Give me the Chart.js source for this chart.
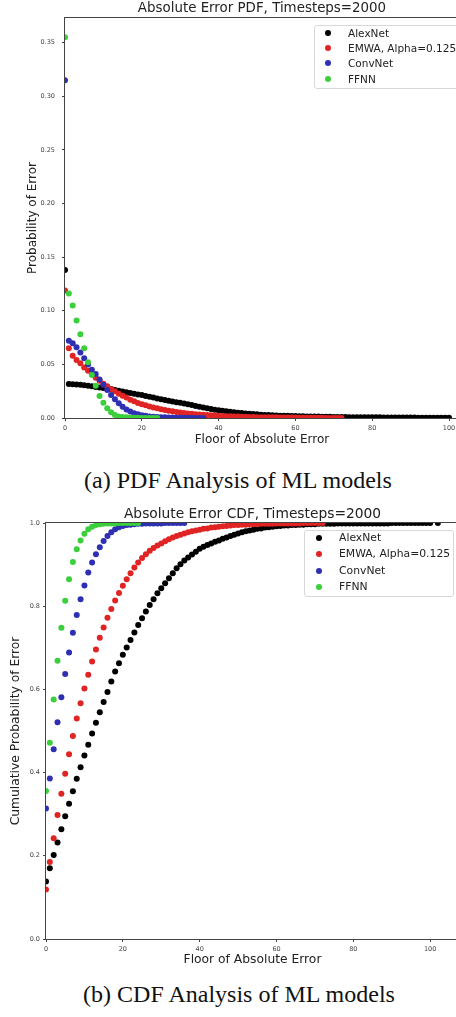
<!DOCTYPE html>
<html lang="en">
<head>
<meta charset="utf-8">
<title>Absolute Error PDF / CDF, Timesteps=2000</title>
<script src="https://cdn.jsdelivr.net/npm/chart.js@4.4.1/dist/chart.umd.min.js"></script>
<style>
  html, body { margin: 0; padding: 0; background: #fff; }
  body { width: 456px; height: 1017px; position: relative; overflow: hidden; font-family: 'DejaVu Sans', sans-serif; }
  canvas { position: absolute; left: 0; }
  #grafico-pdf { top: 0; }
  #grafico-cdf { top: 505px; }
  .leyenda { position: absolute; border: 1px solid #d8d8d8; border-radius: 3px; background: rgba(255,255,255,0.85); color: #222; }
  .leyenda .item { position: absolute; white-space: nowrap; height: 14px; line-height: 14px; }
  .leyenda .punto { position: absolute; width: 6px; height: 6px; border-radius: 50%; top: 4px; }
  .caption { position: absolute; transform: translateX(-50%); white-space: nowrap; font-family: 'Liberation Serif', 'Times New Roman', serif; font-size: 24px; color: #111; line-height: 28px; }
</style>
</head>
<body>
<canvas id="grafico-pdf" width="462" height="452"></canvas>
<canvas id="grafico-cdf" width="462" height="470"></canvas>
<div class="leyenda" id="leyenda-pdf" style="left:314px; top:25px; width:150px; height:62px;"></div>
<div class="leyenda" id="leyenda-cdf" style="left:304px; top:530px; width:148px; height:65px;"></div>
<div class="caption" style="left:238px; top:466px;">(a) PDF Analysis of ML models</div>
<div class="caption" style="left:239px; top:980px;">(b) CDF Analysis of ML models</div>
<script>
// ─── Datos ───────────────────────────────────────
const series  = ['AlexNet', 'EMWA, Alpha=0.125', 'ConvNet', 'FFNN'];
const colores = ['#000000', '#e02424', '#2f2fb4', '#3ccf3c'];

const ticksX    = [0, 20, 40, 60, 80, 100];
const ticksPdfY = [0, 0.05, 0.10, 0.15, 0.20, 0.25, 0.30, 0.35];
const ticksCdfY = [0, 0.2, 0.4, 0.6, 0.8, 1.0];

// PDF: probabilidad por valor entero del error (x = 0, 1, 2, ...)
const pdfAlexNet = [0.138,
  0.0317, 0.0315, 0.0312, 0.031, 0.0305, 0.030, 0.0295, 0.029, 0.0285, 0.028,
  0.0275, 0.027, 0.0262, 0.0255, 0.0248, 0.024, 0.0233, 0.0226, 0.022, 0.0214,
  0.0205, 0.0197, 0.019, 0.0182, 0.0174, 0.0167, 0.016, 0.0154, 0.0148, 0.0143,
  0.0136, 0.0129, 0.0121, 0.0113, 0.0105, 0.0098, 0.0091, 0.0084, 0.0078, 0.0072,
  0.0067, 0.0062, 0.0058, 0.0054, 0.005, 0.0046, 0.0043, 0.004, 0.0037, 0.0034,
  0.0031, 0.0029, 0.0027, 0.0025, 0.0024, 0.0022, 0.0021, 0.002, 0.0019, 0.0018,
  0.0017, 0.0016, 0.0015, 0.0014, 0.0013, 0.0013, 0.0012, 0.0011, 0.0011, 0.001,
  0.001, 0.0009, 0.0009, 0.0008, 0.0008, 0.0008, 0.0007, 0.0007, 0.0007, 0.0006,
  0.0006, 0.0006, 0.0005, 0.0005, 0.0005, 0.0005, 0.0004, 0.0004, 0.0004, 0.0004,
  0.0004, 0.0003, 0.0003, 0.0003, 0.0003, 0.0003, 0.0002, 0.0002, 0.0002, 0.0002];
const pdfEmwa = [
  0.119, 0.065, 0.058, 0.054, 0.051, 0.047, 0.044, 0.041, 0.0376, 0.0348,
  0.032, 0.0295, 0.027, 0.025, 0.0227, 0.0208, 0.019, 0.017, 0.0156, 0.014,
  0.0128, 0.0118, 0.0108, 0.0099, 0.009, 0.0082, 0.0075, 0.0068, 0.0062, 0.0057,
  0.0052, 0.0047, 0.0043, 0.0039, 0.0036, 0.0033, 0.003, 0.0027, 0.0025, 0.0023,
  0.0021, 0.0019, 0.0017, 0.0016, 0.0014, 0.0013, 0.0012, 0.0011, 0.001, 0.0009,
  0.0008, 0.0008, 0.0007, 0.0007, 0.0006, 0.0006, 0.0005, 0.0005, 0.0004, 0.0004,
  0.0004, 0.0003, 0.0003, 0.0003, 0.0002, 0.0002, 0.0002, 0.0002, 0.0001, 0.0001,
  0.0001, 0.0001, 0.0001];
const pdfConvNet = [
  0.315, 0.072, 0.0697, 0.066, 0.061, 0.0557, 0.050, 0.045, 0.041, 0.036,
  0.031, 0.026, 0.0215, 0.0174, 0.0137, 0.0106, 0.008, 0.006, 0.0045, 0.0035,
  0.0025, 0.002, 0.0015, 0.0012, 0.001, 0.0008, 0.0006, 0.0005, 0.0004, 0.0003,
  0.0003, 0.0002, 0.0002, 0.0001, 0.0001, 0.0001, 0.0001];
const pdfFfnn = [
  0.355, 0.116, 0.105, 0.091, 0.078, 0.065, 0.052, 0.040, 0.030, 0.0205,
  0.0143, 0.009, 0.0053, 0.0028, 0.0015, 0.001, 0.0006, 0.0004, 0.0003, 0.0002,
  0.0001, 0.0001, 0.0001, 0.0001, 0.0001];

// CDF: probabilidad acumulada (null = sin registro para ese valor)
const cdfAlexNet = [
  0.138, 0.170, 0.202, 0.232, 0.264, 0.295, 0.325, 0.355, 0.385, 0.413,
  0.441, 0.467, 0.494, 0.520, 0.545, 0.570, 0.594, 0.619, 0.643, 0.663,
  0.683, 0.701, 0.719, 0.737, 0.755, 0.771, 0.787, 0.803, 0.817, 0.831,
  0.843, 0.855, 0.867, 0.879, 0.891, 0.901, 0.910, 0.917, 0.924, 0.931,
  0.938, 0.943, 0.947, 0.951, 0.955, 0.958, 0.962, 0.965, 0.969, 0.972,
  0.975, 0.978, 0.980, 0.982, 0.984, 0.986, 0.987, 0.989, 0.990, 0.991,
  0.992, 0.993, 0.994, 0.994, 0.995, 0.995, 0.996, 0.996, 0.997, 0.997,
  0.997, 0.998, 0.998, 0.998, 0.998, 0.998, 0.999, 0.999, 0.999, 0.999,
  0.999, 0.999, 0.999, 0.999, 0.999, 0.999, 0.999, 0.999, 0.999, 0.999,
  1.0, 1.0, 1.0, 1.0, 1.0, 1.0, 1.0, 1.0, 1.0, 1.0,
  1.0, null, 1.0];
const cdfEmwa = [
  0.119, 0.185, 0.242, 0.298, 0.349, 0.397, 0.444, 0.488, 0.530, 0.567,
  0.602, 0.635, 0.667, 0.696, 0.724, 0.749, 0.772, 0.793, 0.814, 0.832,
  0.849, 0.865, 0.879, 0.893, 0.905, 0.916, 0.925, 0.933, 0.940, 0.946,
  0.951, 0.956, 0.961, 0.965, 0.969, 0.972, 0.975, 0.978, 0.980, 0.982,
  0.984, 0.986, 0.987, 0.989, 0.990, 0.991, 0.992, 0.993, 0.994, 0.995,
  0.995, 0.996, 0.996, 0.997, 0.997, 0.997, 0.998, 0.998, 0.998, 0.998,
  0.999, 0.999, 0.999, 0.999, 0.999, 0.999, 0.999, 1.0, 1.0, 1.0,
  1.0, 1.0, 1.0];
const cdfConvNet = [
  0.314, 0.386, 0.456, 0.521, 0.581, 0.637, 0.689, 0.736, 0.779, 0.817,
  0.850, 0.881, 0.905, 0.925, 0.942, 0.957, 0.969, 0.978, 0.985, 0.990,
  0.993, 0.995, 0.996, 0.997, 0.998, 0.998, 0.999, 0.999, 0.999, 0.999,
  0.999, 1.0, 1.0, 1.0, 1.0, 1.0, 1.0];
const cdfFfnn = [
  0.356, 0.472, 0.576, 0.669, 0.748, 0.813, 0.865, 0.906, 0.937, 0.958,
  0.974, 0.985, 0.991, 0.995, 0.997, 0.998, 0.999, 0.999, 0.999, 1.0,
  1.0, 1.0, 1.0, 1.0, 1.0];

// ─── Helpers ──────────────────────────────────────
const FUENTE = "'DejaVu Sans', sans-serif";

function aPuntos(valores) {
  return valores
    .map((y, x) => (y === null ? null : { x, y }))
    .filter(Boolean);
}

function armarDatasets(listas) {
  return listas.map((valores, i) => ({
    label: series[i],
    data: aPuntos(valores),
    backgroundColor: colores[i],
    borderWidth: 0,
    pointRadius: 3,
    pointHoverRadius: 3,
    clip: 0,
    order: listas.length - i   // el último (FFNN) queda encima, como en matplotlib
  }));
}

// Título sobre el área del gráfico + marco de los ejes
const pluginTitulo = {
  id: 'tituloArea',
  afterDraw(chart, args, opts) {
    const { ctx, chartArea } = chart;
    ctx.save();
    ctx.font = `${opts.size}px ${FUENTE}`;
    ctx.fillStyle = '#222';
    ctx.textAlign = 'center';
    ctx.textBaseline = 'middle';
    ctx.fillText(opts.text, (chartArea.left + chartArea.right) / 2, chartArea.top - 9);
    ctx.restore();
  }
};

const pluginMarco = {
  id: 'marco',
  afterDatasetsDraw(chart) {
    const { ctx, chartArea: a } = chart;
    ctx.save();
    ctx.strokeStyle = '#444';
    ctx.lineWidth = 1;
    ctx.strokeRect(Math.round(a.left) - 0.5, Math.round(a.top) - 0.5,
                   Math.round(a.right - a.left) + 1, Math.round(a.bottom - a.top) + 1);
    ctx.restore();
  }
};

function crearGrafico(id, cfg) {
  const ctx = document.getElementById(id).getContext('2d');
  return new Chart(ctx, {
    type: 'scatter',
    data: { datasets: armarDatasets(cfg.listas) },
    plugins: [pluginTitulo, pluginMarco],
    options: {
      responsive: false,
      animation: false,
      events: [],
      layout: { padding: { top: 18, right: cfg.padDer, bottom: 0, left: 0 } },
      plugins: {
        legend: { display: false },
        tooltip: { enabled: false },
        tituloArea: { text: cfg.titulo, size: cfg.tamTitulo }
      },
      scales: {
        x: {
          type: 'linear',
          min: 0,
          max: cfg.xMax,
          afterFit: s => { s.height = cfg.altoX; },
          afterBuildTicks: s => { s.ticks = ticksX.map(v => ({ value: v })); },
          grid: { drawOnChartArea: false, drawTicks: true, tickLength: 3, tickColor: '#444' },
          border: { display: false },
          ticks: {
            font: { family: FUENTE, size: 6.5 },
            color: '#444',
            padding: 3,
            maxRotation: 0,
            autoSkip: false
          },
          title: {
            display: true,
            text: 'Floor of Absolute Error',
            font: { family: FUENTE, size: cfg.tamEje },
            color: '#222',
            padding: { top: 0, bottom: cfg.padTituloX }
          }
        },
        y: {
          type: 'linear',
          min: 0,
          max: cfg.yMax,
          afterFit: s => { s.width = cfg.anchoY; },
          afterBuildTicks: s => { s.ticks = cfg.ticksY.map(v => ({ value: v })); },
          grid: { drawOnChartArea: false, drawTicks: true, tickLength: 3, tickColor: '#444' },
          border: { display: false },
          ticks: {
            font: { family: FUENTE, size: 6.5 },
            color: '#444',
            padding: cfg.padTickY,
            callback: v => v.toFixed(cfg.decimales)
          },
          title: {
            display: true,
            text: cfg.tituloY,
            font: { family: FUENTE, size: cfg.tamEje },
            color: '#222',
            padding: { top: cfg.padTituloY, bottom: 0 }
          }
        }
      }
    }
  });
}

function crearLeyenda(id, filas, marcadorX, textoX, tamFuente) {
  const caja = document.getElementById(id);
  series.forEach((nombre, i) => {
    const item = document.createElement('div');
    item.className = 'item';
    item.style.top = (filas[i] - 7) + 'px';
    item.style.left = '0px';
    item.style.fontSize = tamFuente + 'px';
    item.innerHTML = `<span class="punto" style="left:${marcadorX - 3}px; background:${colores[i]}"></span>` +
                     `<span style="position:absolute; left:${textoX}px">${nombre}</span>`;
    caja.appendChild(item);
  });
}

// ─── Init ─────────────────────────────────────────
crearGrafico('grafico-pdf', {
  listas: [pdfAlexNet, pdfEmwa, pdfConvNet, pdfFfnn],
  titulo: 'Absolute Error PDF, Timesteps=2000',
  tamTitulo: 13.4,
  tituloY: 'Probability of Error',
  tamEje: 12,
  ticksY: ticksPdfY,
  decimales: 2,
  xMax: 102.6,
  yMax: 0.373,
  padDer: 1,
  anchoY: 65,
  altoX: 34,
  padTickY: 7,
  padTituloX: 4.8,
  padTituloY: 25.8
});

crearGrafico('grafico-cdf', {
  listas: [cdfAlexNet, cdfEmwa, cdfConvNet, cdfFfnn],
  titulo: 'Absolute Error CDF, Timesteps=2000',
  tamTitulo: 13.8,
  tituloY: 'Cumulative Probability of Error',
  tamEje: 12.3,
  ticksY: ticksCdfY,
  decimales: 1,
  xMax: 107.5,
  yMax: 1.0,
  padDer: 2,
  anchoY: 46,
  altoX: 36,
  padTickY: 3,
  padTituloX: 7.6,
  padTituloY: 8.6
});

crearLeyenda('leyenda-pdf', [7, 22, 37, 53], 13, 33, 10.5);
crearLeyenda('leyenda-cdf', [7, 23, 40, 56], 14, 34, 10.8);
</script>
</body>
</html>
